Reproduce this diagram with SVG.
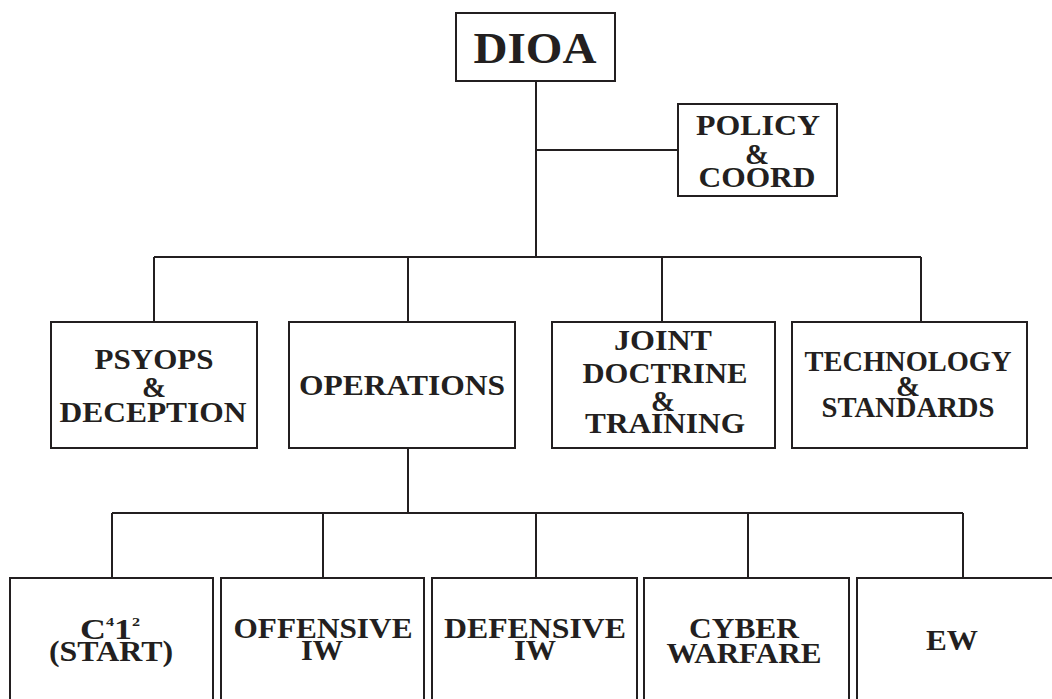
<svg xmlns="http://www.w3.org/2000/svg" width="1052" height="699" viewBox="0 0 1052 699">
<style>
.box{fill:#fff;stroke:#231f20;stroke-width:2}
.ln{fill:none;stroke:#231f20;stroke-width:2}
text{font-family:'Liberation Serif','DejaVu Serif Condensed','DejaVu Serif',serif;font-weight:700;fill:#231f20;text-anchor:middle}
.t{font-size:29px}
.amp{font-size:29px}
.sup{font-size:13px}
</style>
<rect width="1052" height="699" fill="#fff"/>
<g id="connectors">
<path class="ln" d="M536 81V257M536 150H678M154 257H921M154 257V322M408 257V322M662 257V322M921 257V322"/>
<path class="ln" d="M408 448V513M112 513H963M112 513V578M323 513V578M536 513V578M748 513V578M963 513V578"/>
</g>
<g id="dioa"><rect class="box" x="456" y="13" width="159" height="68"/><text x="535" y="63" style="font-size:44px" textLength="123" lengthAdjust="spacingAndGlyphs">DIOA</text></g>
<g id="policy"><rect class="box" x="678" y="104" width="159" height="92"/>
<text class="t" x="758" y="135" textLength="124" lengthAdjust="spacingAndGlyphs">POLICY</text><text class="amp" x="757" y="164" textLength="24" lengthAdjust="spacingAndGlyphs">&amp;</text><text class="t" x="757" y="187" textLength="117" lengthAdjust="spacingAndGlyphs">COORD</text></g>
<g id="psyops"><rect class="box" x="51" y="322" width="206" height="126"/>
<text class="t" x="154" y="369" textLength="119" lengthAdjust="spacingAndGlyphs">PSYOPS</text><text class="amp" x="154" y="397" textLength="24" lengthAdjust="spacingAndGlyphs">&amp;</text><text class="t" x="153" y="422" textLength="187" lengthAdjust="spacingAndGlyphs">DECEPTION</text></g>
<g id="operations"><rect class="box" x="289" y="322" width="226" height="126"/>
<text class="t" x="402" y="395" textLength="206" lengthAdjust="spacingAndGlyphs">OPERATIONS</text></g>
<g id="joint"><rect class="box" x="552" y="322" width="223" height="126"/>
<text class="t" x="663" y="350" textLength="98" lengthAdjust="spacingAndGlyphs">JOINT</text><text class="t" x="665" y="383" textLength="165" lengthAdjust="spacingAndGlyphs">DOCTRINE</text><text class="amp" x="663" y="411" textLength="24" lengthAdjust="spacingAndGlyphs">&amp;</text><text class="t" x="665" y="433" textLength="160" lengthAdjust="spacingAndGlyphs">TRAINING</text></g>
<g id="technology"><rect class="box" x="792" y="322" width="235" height="126"/>
<text class="t" x="908" y="371" textLength="207" lengthAdjust="spacingAndGlyphs">TECHNOLOGY</text><text class="amp" x="908" y="396" textLength="24" lengthAdjust="spacingAndGlyphs">&amp;</text><text class="t" x="908" y="417" textLength="173" lengthAdjust="spacingAndGlyphs">STANDARDS</text></g>
<g id="c4i2"><rect class="box" x="10" y="578" width="203" height="130"/>
<text class="t" x="110" y="639" textLength="60" lengthAdjust="spacingAndGlyphs">C<tspan class="sup" dy="-13">4</tspan><tspan dy="13">1</tspan><tspan class="sup" dy="-13">2</tspan></text><text class="t" x="111" y="661" textLength="124" lengthAdjust="spacingAndGlyphs">(START)</text></g>
<g id="offensive"><rect class="box" x="221" y="578" width="203" height="130"/>
<text class="t" x="323" y="638" textLength="179" lengthAdjust="spacingAndGlyphs">OFFENSIVE</text><text class="t" x="322" y="660" textLength="42" lengthAdjust="spacingAndGlyphs">IW</text></g>
<g id="defensive"><rect class="box" x="432" y="578" width="205" height="130"/>
<text class="t" x="535" y="638" textLength="182" lengthAdjust="spacingAndGlyphs">DEFENSIVE</text><text class="t" x="535" y="660" textLength="42" lengthAdjust="spacingAndGlyphs">IW</text></g>
<g id="cyber"><rect class="box" x="644" y="578" width="205" height="130"/>
<text class="t" x="744" y="638" textLength="110" lengthAdjust="spacingAndGlyphs">CYBER</text><text class="t" x="744" y="663" textLength="155" lengthAdjust="spacingAndGlyphs">WARFARE</text></g>
<g id="ew"><rect class="box" x="857" y="578" width="210" height="130"/>
<text class="t" x="952" y="650" textLength="52" lengthAdjust="spacingAndGlyphs">EW</text></g>
</svg>
